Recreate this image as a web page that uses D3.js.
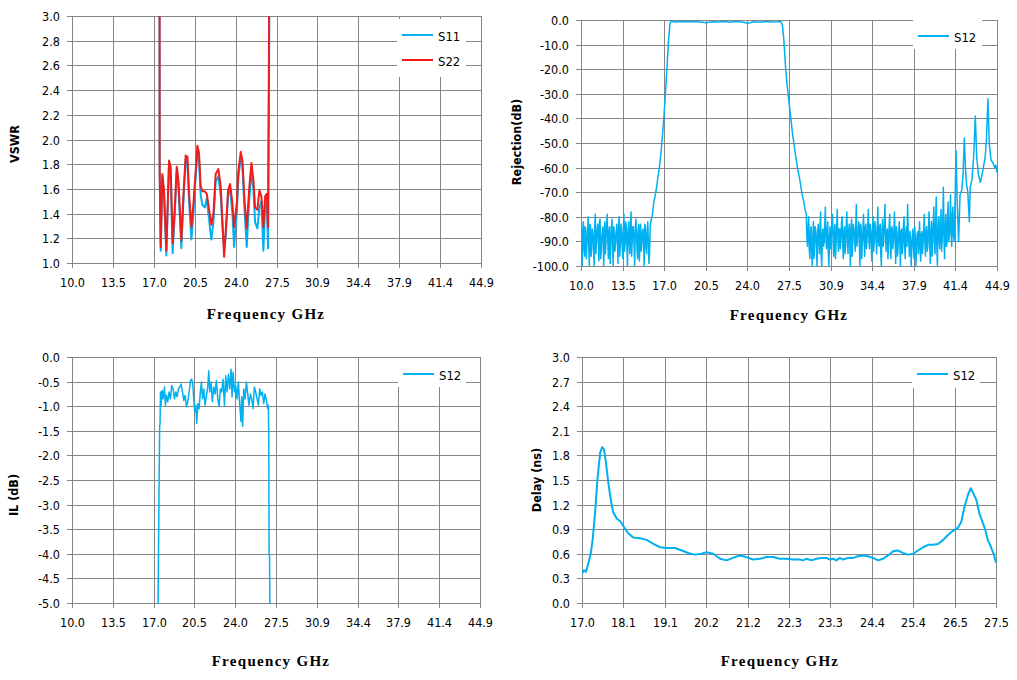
<!DOCTYPE html>
<html>
<head>
<meta charset="utf-8">
<script src="https://cdn.jsdelivr.net/npm/d3@7"></script>
<style>
body { margin: 0; background: #fff; }
svg text { font-family: "DejaVu Sans Condensed", "DejaVu Sans", sans-serif; font-stretch: condensed; }
</style>
</head>
<body>
<div id="chart"></div>
<script>
// ---- tick labels ----
const wideTickVals = [10.0, 13.49, 16.98, 20.47, 23.96, 27.45, 30.94, 34.43, 37.92, 41.41, 44.9];
const wideTickLabels = ["10.0", "13.5", "17.0", "20.5", "24.0", "27.5", "30.9", "34.4", "37.9", "41.4", "44.9"];
const delayTickVals = [17.0, 18.05, 19.1, 20.15, 21.2, 22.25, 23.3, 24.35, 25.4, 26.45, 27.5];
const delayTickLabels = ["17.0", "18.1", "19.1", "20.2", "21.2", "22.3", "23.3", "24.4", "25.4", "26.5", "27.5"];
const vswrTicks = [1.0, 1.2, 1.4, 1.6, 1.8, 2.0, 2.2, 2.4, 2.6, 2.8, 3.0];
const rejTicks = [-100, -90, -80, -70, -60, -50, -40, -30, -20, -10, 0];
const ilTicks = [-5.0, -4.5, -4.0, -3.5, -3.0, -2.5, -2.0, -1.5, -1.0, -0.5, 0.0];
const delayTicks = [0.0, 0.3, 0.6, 0.9, 1.2, 1.5, 1.8, 2.1, 2.4, 2.7, 3.0];

// ---- series: [frequency GHz, value] ----
const vswrS11 = [
	[17.47, 3.5], [17.48, 1.78], [17.57, 1.10], [17.71, 1.70], [17.85, 1.55], [18.05, 1.06], [18.28, 1.80], [18.42, 1.72],
	[18.59, 1.08], [18.76, 1.38], [18.94, 1.75], [19.08, 1.62], [19.33, 1.12], [19.50, 1.48], [19.70, 1.84], [19.85, 1.80],
	[19.99, 1.50], [20.19, 1.19], [20.36, 1.40], [20.50, 1.62], [20.70, 1.90], [20.84, 1.82], [20.98, 1.55], [21.13, 1.47],
	[21.33, 1.45], [21.50, 1.52], [21.70, 1.35], [21.89, 1.19], [22.07, 1.33], [22.26, 1.66], [22.49, 1.70], [22.69, 1.55],
	[22.83, 1.30], [22.98, 1.12], [23.12, 1.22], [23.32, 1.55], [23.49, 1.60], [23.69, 1.40], [23.83, 1.13], [24.06, 1.40],
	[24.20, 1.70], [24.40, 1.85], [24.54, 1.78], [24.74, 1.40], [24.91, 1.13], [25.11, 1.50], [25.31, 1.74], [25.48, 1.60],
	[25.62, 1.33], [25.82, 1.28], [25.99, 1.45], [26.16, 1.50], [26.33, 1.10], [26.48, 1.45], [26.62, 1.50], [26.73, 1.12],
	[26.82, 2.6], [26.84, 3.5]
];
const vswrS22 = [
	[17.47, 3.5], [17.48, 1.74], [17.57, 1.13], [17.71, 1.72], [17.85, 1.59], [18.05, 1.10], [18.28, 1.83], [18.42, 1.78],
	[18.59, 1.16], [18.76, 1.43], [18.94, 1.78], [19.08, 1.67], [19.33, 1.18], [19.50, 1.54], [19.70, 1.87], [19.85, 1.86],
	[19.99, 1.56], [20.19, 1.29], [20.36, 1.48], [20.50, 1.67], [20.70, 1.95], [20.84, 1.89], [20.98, 1.62], [21.13, 1.58],
	[21.33, 1.58], [21.50, 1.56], [21.70, 1.43], [21.89, 1.31], [22.07, 1.40], [22.26, 1.72], [22.49, 1.76], [22.69, 1.62],
	[22.83, 1.35], [22.98, 1.05], [23.12, 1.26], [23.32, 1.59], [23.49, 1.64], [23.69, 1.48], [23.83, 1.29], [24.06, 1.48],
	[24.20, 1.75], [24.40, 1.90], [24.54, 1.83], [24.74, 1.48], [24.91, 1.28], [25.11, 1.59], [25.31, 1.81], [25.48, 1.67],
	[25.62, 1.45], [25.82, 1.43], [25.99, 1.59], [26.16, 1.54], [26.33, 1.29], [26.48, 1.54], [26.62, 1.56], [26.73, 1.29],
	[26.82, 3.0], [26.84, 3.5]
];
// rejection S12, read in pieces: low stop band, skirts + pass band, high stop band, spurs
const rejLowFloor = [
	[10.0, -78], [10.1, -100], [10.2, -82], [10.3, -96], [10.4, -85], [10.5, -91], [10.6, -80], [10.7, -100], [10.8, -84], [10.9, -93],
	[11.0, -87], [11.1, -100], [11.2, -79], [11.3, -90], [11.4, -83], [11.5, -98], [11.6, -81], [11.7, -94], [11.8, -86], [11.9, -100],
	[12.0, -82], [12.1, -89], [12.2, -79], [12.3, -97], [12.4, -84], [12.5, -92], [12.6, -81], [12.7, -100], [12.8, -86], [12.9, -90],
	[13.0, -83], [13.1, -99], [13.2, -80], [13.3, -92], [13.4, -86], [13.5, -97], [13.6, -79], [13.7, -91], [13.8, -84], [13.9, -100],
	[14.0, -82], [14.1, -95], [14.2, -78], [14.3, -89], [14.4, -84], [14.5, -100], [14.6, -81], [14.7, -93], [14.8, -86], [14.9, -98],
	[15.0, -83], [15.1, -91], [15.2, -85], [15.3, -100], [15.4, -84], [15.5, -95], [15.6, -82], [15.7, -99], [15.8, -84]
];
const rejLowFloorMid = [
	[10.05, -88], [10.15, -86], [10.25, -93], [10.35, -84], [10.45, -97], [10.55, -87], [10.65, -92], [10.75, -83], [10.85, -96], [10.95, -85],
	[11.05, -91], [11.15, -84], [11.25, -95], [11.35, -86], [11.45, -89], [11.55, -82], [11.65, -97], [11.75, -88], [11.85, -84], [11.95, -92],
	[12.05, -95], [12.15, -83], [12.25, -90], [12.35, -86], [12.45, -99], [12.55, -85], [12.65, -91], [12.75, -84], [12.85, -94], [12.95, -87],
	[13.05, -90], [13.15, -84], [13.25, -96], [13.35, -83], [13.45, -90], [13.55, -85], [13.65, -94], [13.75, -82], [13.85, -92], [13.95, -86],
	[14.05, -90], [14.15, -83], [14.25, -96], [14.35, -84], [14.45, -91], [14.55, -87], [14.65, -85], [14.75, -97], [14.85, -83], [14.95, -89],
	[15.05, -94], [15.15, -86], [15.25, -90], [15.35, -83], [15.45, -92], [15.55, -87], [15.65, -90], [15.75, -95]
];
const rejPass = [
	[15.9, -81], [16.0, -79], [16.1, -74], [16.2, -72], [16.34, -68], [16.45, -64], [16.57, -60], [16.71, -54], [16.85, -46],
	[16.96, -39], [17.04, -33], [17.18, -22], [17.32, -10], [17.46, -1.5], [17.54, -0.5],
	[17.6, -0.6], [18.0, -0.8], [18.5, -0.6], [19.0, -0.7], [19.5, -0.6], [20.0, -0.8], [20.5, -1.1], [21.0, -0.7], [21.5, -0.8],
	[22.0, -0.6], [22.5, -0.9], [23.0, -0.6], [23.5, -0.8], [24.0, -1.3], [24.5, -0.7], [25.0, -0.9], [25.5, -0.6], [26.0, -0.8],
	[26.5, -0.7], [26.76, -0.6],
	[26.9, -2.2], [27.02, -8.3], [27.16, -19], [27.3, -27], [27.44, -33], [27.58, -39], [27.74, -46], [27.94, -53], [28.16, -60],
	[28.36, -65], [28.55, -71], [28.7, -74], [28.8, -77]
];
const rejHighFloor = [
	[28.9, -79], [29.0, -92], [29.1, -80], [29.2, -97], [29.3, -84], [29.4, -100], [29.5, -82], [29.6, -91], [29.7, -86], [29.8, -100],
	[29.9, -83], [30.0, -95], [30.1, -78], [30.2, -100], [30.3, -85], [30.4, -90], [30.5, -76], [30.6, -93], [30.7, -82], [30.8, -100],
	[30.9, -84], [31.0, -88], [31.1, -79], [31.2, -96], [31.3, -83], [31.4, -91], [31.5, -77], [31.6, -94], [31.7, -85], [31.8, -89],
	[31.9, -80], [32.0, -97], [32.1, -84], [32.2, -92], [32.3, -78], [32.4, -95], [32.5, -83], [32.6, -100], [32.7, -81], [32.8, -90],
	[32.9, -85], [33.0, -94], [33.1, -75], [33.2, -88], [33.3, -82], [33.4, -100], [33.5, -84], [33.6, -91], [33.7, -79], [33.8, -96],
	[33.9, -83], [34.0, -89], [34.1, -77], [34.2, -93], [34.3, -85], [34.4, -98], [34.5, -80], [34.6, -90], [34.7, -84], [34.8, -95],
	[34.9, -76], [35.0, -92], [35.1, -83], [35.2, -100], [35.3, -81], [35.4, -88], [35.5, -75], [35.6, -94], [35.7, -85], [35.8, -91],
	[35.9, -79], [36.0, -97], [36.1, -84], [36.2, -90], [36.3, -78], [36.4, -99], [36.5, -86], [36.6, -93], [36.7, -82], [36.8, -100],
	[36.9, -85], [37.0, -92], [37.1, -80], [37.2, -97], [37.3, -84], [37.4, -75], [37.5, -90], [37.6, -86], [37.7, -100], [37.8, -88],
	[37.9, -93], [38.0, -84], [38.1, -100], [38.2, -87], [38.3, -95], [38.4, -82], [38.5, -98], [38.6, -86], [38.7, -91], [38.8, -79],
	[38.9, -96], [39.0, -84], [39.1, -92], [39.2, -78], [39.3, -99], [39.4, -82], [39.5, -90], [39.6, -76], [39.7, -95], [39.8, -72],
	[39.9, -100], [40.0, -80], [40.1, -93], [40.2, -77], [40.3, -89], [40.4, -68], [40.5, -97], [40.6, -79], [40.7, -91], [40.8, -74],
	[40.9, -88], [41.0, -71], [41.1, -92], [41.2, -76], [41.3, -90]
];
const rejHighFloorMid = [
	[28.95, -88], [29.05, -85], [29.15, -93], [29.25, -86], [29.35, -95], [29.45, -88], [29.55, -97], [29.65, -84], [29.75, -92], [29.85, -87],
	[29.95, -90], [30.05, -84], [30.15, -96], [30.25, -87], [30.35, -92], [30.45, -83], [30.55, -89], [30.65, -86], [30.75, -95], [30.85, -88],
	[30.95, -93], [31.05, -83], [31.15, -90], [31.25, -86], [31.35, -97], [31.45, -84], [31.55, -88], [31.65, -85], [31.75, -93], [31.85, -83],
	[31.95, -90], [32.05, -86], [32.15, -95], [32.25, -84], [32.35, -88], [32.45, -86], [32.55, -91], [32.65, -84], [32.75, -96], [32.85, -83],
	[32.95, -89], [33.05, -84], [33.15, -92], [33.25, -86], [33.35, -90], [33.45, -83], [33.55, -97], [33.65, -86], [33.75, -89], [33.85, -84],
	[33.95, -93], [34.05, -85], [34.15, -88], [34.25, -83], [34.35, -91], [34.45, -86], [34.55, -94], [34.65, -82], [34.75, -89], [34.85, -87],
	[34.95, -90], [35.05, -84], [35.15, -95], [35.25, -86], [35.35, -92], [35.45, -83], [35.55, -88], [35.65, -86], [35.75, -97], [35.85, -84],
	[35.95, -90], [36.05, -85], [36.15, -93], [36.25, -86], [36.35, -89], [36.45, -84], [36.55, -96], [36.65, -87], [36.75, -90], [36.85, -86],
	[36.95, -95], [37.05, -84], [37.15, -91], [37.25, -87], [37.35, -92], [37.45, -86], [37.55, -96], [37.65, -89], [37.75, -93], [37.85, -85],
	[37.95, -97], [38.05, -89], [38.15, -92], [38.25, -86], [38.35, -90], [38.45, -93], [38.55, -87], [38.65, -95], [38.75, -85], [38.85, -90],
	[38.95, -86], [39.05, -94], [39.15, -85], [39.25, -89], [39.35, -87], [39.45, -96], [39.55, -83], [39.65, -90], [39.75, -84], [39.85, -92],
	[39.95, -86], [40.05, -89], [40.15, -82], [40.25, -94], [40.35, -83], [40.45, -88], [40.55, -85], [40.65, -92], [40.75, -81], [40.85, -90],
	[40.95, -84], [41.05, -86], [41.15, -80], [41.25, -88]
];
const rejSpurs = [
	[41.4, -70], [41.46, -53], [41.55, -72], [41.68, -90], [41.8, -71], [41.95, -69], [42.05, -63], [42.16, -48], [42.25, -60],
	[42.35, -67], [42.45, -70], [42.58, -82], [42.65, -68], [42.8, -65], [42.95, -55], [43.08, -39], [43.2, -56], [43.35, -63],
	[43.5, -66], [43.6, -64], [43.75, -60], [43.9, -56], [44.0, -50], [44.14, -32], [44.25, -50], [44.4, -57], [44.55, -58],
	[44.7, -60], [44.8, -59], [44.9, -62]
];
const ilS12 = [
	[17.35, -5.3], [17.40, -4.0], [17.44, -2.8], [17.50, -1.4], [17.53, -1.35],
	[17.57, -0.71], [17.62, -0.98], [17.71, -0.68], [17.79, -0.85], [17.91, -0.61], [17.99, -0.98], [18.08, -0.78], [18.19, -0.91],
	[18.31, -0.71], [18.42, -0.85], [18.53, -0.58], [18.65, -0.65], [18.76, -0.85], [18.88, -0.71], [18.99, -0.81], [19.10, -0.65],
	[19.22, -0.61], [19.33, -0.55], [19.45, -0.71], [19.56, -0.88], [19.67, -0.78], [19.79, -1.01], [19.90, -0.91], [20.02, -0.71],
	[20.13, -0.48], [20.24, -0.45], [20.33, -0.55], [20.41, -0.85], [20.50, -1.11], [20.59, -0.98], [20.67, -1.35], [20.76, -0.95],
	[20.87, -1.05], [20.98, -0.71], [21.07, -0.51], [21.16, -0.85], [21.27, -0.65], [21.38, -0.98], [21.50, -0.78], [21.61, -0.61],
	[21.70, -0.28], [21.78, -0.71], [21.90, -0.51], [22.01, -0.91], [22.12, -0.61], [22.24, -0.75], [22.35, -0.48], [22.47, -0.85],
	[22.58, -1.01], [22.69, -0.65], [22.81, -0.71], [22.92, -0.45], [23.04, -0.98], [23.15, -0.38], [23.26, -0.71], [23.38, -0.35],
	[23.49, -0.65], [23.61, -0.25], [23.69, -0.81], [23.78, -0.31], [23.89, -0.71], [24.00, -0.58], [24.12, -0.85], [24.23, -0.51],
	[24.35, -0.98], [24.46, -1.31], [24.52, -0.81], [24.60, -1.41], [24.69, -0.65], [24.80, -0.85], [24.92, -0.51], [25.03, -0.75],
	[25.14, -0.98], [25.26, -0.75], [25.37, -0.85], [25.49, -1.05], [25.60, -0.61], [25.71, -0.71], [25.83, -0.85], [25.94, -0.98],
	[26.06, -0.65], [26.17, -0.78], [26.28, -0.71], [26.40, -0.95], [26.51, -0.75], [26.63, -0.88], [26.74, -1.05], [26.80, -0.98],
	[26.83, -1.65], [26.86, -4.0], [26.90, -4.05], [26.93, -5.3]
];
const delayS12 = [
	[17.00, 0.36], [17.05, 0.40], [17.10, 0.38], [17.16, 0.48], [17.22, 0.60], [17.27, 0.77], [17.33, 1.09], [17.39, 1.50],
	[17.46, 1.83], [17.51, 1.90], [17.56, 1.87], [17.61, 1.70], [17.67, 1.46], [17.73, 1.26], [17.79, 1.11], [17.88, 1.03],
	[17.98, 0.99], [18.06, 0.93], [18.17, 0.85], [18.30, 0.80], [18.47, 0.79], [18.64, 0.77], [18.81, 0.72], [18.98, 0.68],
	[19.15, 0.67], [19.36, 0.67], [19.53, 0.64], [19.69, 0.61], [19.86, 0.59], [20.03, 0.60], [20.16, 0.62], [20.33, 0.60],
	[20.50, 0.54], [20.67, 0.52], [20.83, 0.55], [21.00, 0.58], [21.17, 0.56], [21.34, 0.53], [21.51, 0.54], [21.68, 0.56],
	[21.85, 0.56], [22.02, 0.54], [22.19, 0.54], [22.35, 0.53], [22.52, 0.53], [22.61, 0.52], [22.69, 0.54], [22.82, 0.52],
	[22.95, 0.54], [23.07, 0.55], [23.20, 0.55], [23.28, 0.53], [23.37, 0.54], [23.45, 0.52], [23.54, 0.55], [23.62, 0.53],
	[23.75, 0.55], [23.88, 0.55], [24.00, 0.57], [24.13, 0.58], [24.25, 0.57], [24.38, 0.55], [24.51, 0.52], [24.64, 0.54],
	[24.76, 0.58], [24.89, 0.63], [25.02, 0.64], [25.14, 0.61], [25.27, 0.59], [25.40, 0.60], [25.52, 0.64], [25.65, 0.68],
	[25.78, 0.71], [25.90, 0.71], [26.03, 0.72], [26.16, 0.77], [26.28, 0.83], [26.41, 0.88], [26.54, 0.92], [26.62, 0.99],
	[26.70, 1.17], [26.79, 1.32], [26.86, 1.40], [26.92, 1.34], [27.00, 1.26], [27.08, 1.09], [27.17, 0.97], [27.23, 0.89],
	[27.29, 0.77], [27.35, 0.71], [27.44, 0.60], [27.50, 0.49]
];

// all rejection readings in frequency order
const rejS12 = rejLowFloor
	.concat(rejLowFloorMid, rejPass, rejHighFloor, rejHighFloorMid, rejSpurs)
	.sort((a, b) => a[0] - b[0]);

const blue = "#00b0f0";
const red = "#f01c1c";
const gridColor = "#868686";

const svg = d3.select("#chart").append("svg").attr("width", 1017).attr("height", 680);

function drawPanel(p, idx) {
	const x = d3.scaleLinear().domain(p.xDomain).range([p.left, p.right]);
	const y = d3.scaleLinear().domain(p.yDomain).range([p.bottom, p.top]);
	const xr = x.copy().interpolate(d3.interpolateRound);
	const yr = y.copy().interpolate(d3.interpolateRound);
	const g = svg.append("g");

	// grid
	g.append("g")
		.selectAll("line")
		.data(p.xTicks)
		.enter()
		.append("line")
		.attr("x1", (d) => xr(d) + 0.5)
		.attr("x2", (d) => xr(d) + 0.5)
		.attr("y1", yr(p.yDomain[1]))
		.attr("y2", yr(p.yDomain[0]))
		.attr("stroke", gridColor);
	g.append("g")
		.selectAll("line")
		.data(p.yTicks)
		.enter()
		.append("line")
		.attr("y1", (d) => yr(d) + 0.5)
		.attr("y2", (d) => yr(d) + 0.5)
		.attr("x1", xr(p.xDomain[0]))
		.attr("x2", xr(p.xDomain[1]) + 1)
		.attr("stroke", gridColor);

	// axes
	const xAxis = g
		.append("g")
		.attr("transform", `translate(0,${yr(p.yDomain[0])})`)
		.call(d3.axisBottom(xr).tickValues(p.xTicks).tickFormat((_d, i) => p.xLabels[i]).tickSize(5).tickSizeOuter(0).tickPadding(10));
	const yAxis = g
		.append("g")
		.attr("transform", `translate(${xr(p.xDomain[0])},0)`)
		.call(d3.axisLeft(yr).tickValues(p.yTicks).tickFormat((d) => d.toFixed(1)).tickSize(5).tickSizeOuter(0).tickPadding(7));
	[xAxis, yAxis].forEach((a) => {
		a.select(".domain").attr("stroke", gridColor);
		a.selectAll(".tick line").attr("stroke", gridColor);
		a.selectAll(".tick text").attr("fill", "#000").style("font-size", "12.5px");
		a.attr("font-family", null).attr("font-size", null);
	});

	// legend
	const lg = g.append("g");
	lg.append("rect")
		.attr("x", p.legend.x)
		.attr("y", p.legend.y)
		.attr("width", p.legend.w)
		.attr("height", p.legend.h)
		.attr("fill", "#fff");
	p.series.forEach((s, i) => {
		const ly = p.legend.y + 16 + i * 25;
		lg.append("line")
			.attr("x1", p.legend.x + 5)
			.attr("x2", p.legend.x + 36)
			.attr("y1", ly)
			.attr("y2", ly)
			.attr("stroke", s.color)
			.attr("stroke-width", 2);
		lg.append("text")
			.attr("x", p.legend.x + 41)
			.attr("y", ly + 6)
			.attr("fill", "#000")
			.style("font-size", "13px")
			.text(s.name);
	});

	// series
	const clipId = `clip${idx}`;
	svg.append("clipPath")
		.attr("id", clipId)
		.append("rect")
		.attr("x", p.left)
		.attr("y", p.top)
		.attr("width", p.right - p.left + 1)
		.attr("height", p.bottom - p.top + 1);
	const line = d3
		.line()
		.x((d) => x(d[0]))
		.y((d) => y(d[1]));
	p.series.forEach((s) => {
		g.append("path")
			.datum(s.data)
			.attr("clip-path", `url(#${clipId})`)
			.attr("fill", "none")
			.attr("stroke", s.color)
			.attr("stroke-width", s.width)
			.attr("stroke-linejoin", "round")
			.attr("d", line);
	});

	// titles
	g.append("text")
		.attr("x", p.xTitle[0])
		.attr("y", p.xTitle[1])
		.attr("text-anchor", "middle")
		.style("font-family", '"Liberation Serif", serif')
		.style("font-stretch", "normal")
		.style("font-weight", "bold")
		.style("font-size", "15px")
		.style("letter-spacing", "1.3px")
		.attr("fill", "#000")
		.text("Frequency GHz");
	g.append("text")
		.attr("transform", `translate(${p.yTitle[0]},${p.yTitle[1]}) rotate(-90)`)
		.attr("text-anchor", "middle")
		.style("font-weight", "bold")
		.style("font-size", "12.5px")
		.attr("fill", "#000")
		.text(p.yLabel);
}

const panels = [
	{
		left: 72, right: 481, top: 16, bottom: 263,
		xDomain: [10, 44.9], yDomain: [1, 3],
		xTicks: wideTickVals, xLabels: wideTickLabels, yTicks: vswrTicks,
		yLabel: "VSWR", xTitle: [266, 319], yTitle: [19, 144],
		legend: { x: 397, y: 19, w: 69, h: 58 },
		series: [
			{ name: "S11", data: vswrS11, color: blue, width: 2 },
			{ name: "S22", data: vswrS22, color: red, width: 2 }
		]
	},
	{
		left: 581, right: 997, top: 20, bottom: 266,
		xDomain: [10, 44.9], yDomain: [-100, 0],
		xTicks: wideTickVals, xLabels: wideTickLabels, yTicks: rejTicks,
		yLabel: "Rejection(dB)", xTitle: [789, 320], yTitle: [521, 142],
		legend: { x: 913, y: 20, w: 69, h: 29 },
		series: [{ name: "S12", data: rejS12, color: blue, width: 1.5 }]
	},
	{
		left: 72, right: 480, top: 357, bottom: 603,
		xDomain: [10, 44.9], yDomain: [-5, 0],
		xTicks: wideTickVals, xLabels: wideTickLabels, yTicks: ilTicks,
		yLabel: "IL (dB)", xTitle: [271, 666], yTitle: [18, 495],
		legend: { x: 398, y: 358, w: 68, h: 29 },
		series: [{ name: "S12", data: ilS12, color: blue, width: 1.5 }]
	},
	{
		left: 582, right: 996, top: 357, bottom: 603,
		xDomain: [17, 27.5], yDomain: [0, 3],
		xTicks: delayTickVals, xLabels: delayTickLabels, yTicks: delayTicks,
		yLabel: "Delay (ns)", xTitle: [780, 666], yTitle: [541, 480],
		legend: { x: 912, y: 358, w: 68, h: 30 },
		series: [{ name: "S12", data: delayS12, color: blue, width: 2 }]
	}
];

panels.forEach((p, i) => drawPanel(p, i));
</script>
</body>
</html>
